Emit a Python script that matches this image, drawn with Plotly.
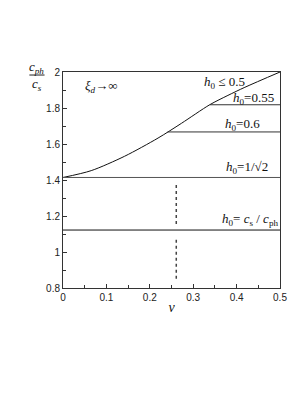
import plotly.graph_objects as go

# Main curve (h0 <= 0.5)
nu = [0.0, 0.065, 0.142, 0.219, 0.273, 0.338, 0.38, 0.419, 0.5]
cph = [1.414, 1.452, 1.532, 1.633, 1.715, 1.818, 1.87, 1.915, 2.0]

# Horizontal branches
h055_nu = [0.338, 0.5]; h055_val = [1.818, 1.818]
h06_nu = [0.241, 0.5]; h06_val = [1.667, 1.667]
hsq_nu = [0.0, 0.5]; hsq_val = [1.414, 1.414]
hcs_nu = [0.0, 0.5]; hcs_val = [1.122, 1.122]

# Dotted vertical segments
dot1_nu = [0.261, 0.261]; dot1_val = [1.156, 1.378]
dot2_nu = [0.261, 0.261]; dot2_val = [0.852, 1.068]

fig = go.Figure()
fig.add_trace(go.Scatter(x=nu, y=cph, mode="lines", line=dict(color="#111", width=1, shape="spline", smoothing=0.8), showlegend=False))
for xs, ys, col in [(h055_nu, h055_val, "#333"), (h06_nu, h06_val, "#333"), (hsq_nu, hsq_val, "#555"), (hcs_nu, hcs_val, "#111")]:
    fig.add_trace(go.Scatter(x=xs, y=ys, mode="lines", line=dict(color=col, width=1), showlegend=False))
for xs, ys in [(dot1_nu, dot1_val), (dot2_nu, dot2_val)]:
    fig.add_trace(go.Scatter(x=xs, y=ys, mode="lines", line=dict(color="#444", width=1.5, dash="dot"), showlegend=False))

serif = dict(family="Liberation Serif", size=13, color="#111")
ann = [
    dict(x=0.373, y=1.944, text="<i>h</i><sub>0</sub> ≤ 0.5"),
    dict(x=0.439, y=1.852, text="<i>h</i><sub>0</sub>=0.55"),
    dict(x=0.414, y=1.706, text="<i>h</i><sub>0</sub>=0.6"),
    dict(x=0.424, y=1.472, text="<i>h</i><sub>0</sub>=1/√2"),
    dict(x=0.432, y=1.18, text="<i>h</i><sub>0</sub>= <i>c</i><sub>s</sub> / <i>c</i><sub>ph</sub>"),
    dict(x=0.088, y=1.917, text="<i>ξ</i><sub><i>d</i></sub>→∞"),
]
for a in ann:
    fig.add_annotation(x=a["x"], y=a["y"], text=a["text"], showarrow=False, font=serif, xref="x", yref="y",
                       xanchor="center", yanchor="middle")

# y-axis title as fraction
fig.add_annotation(xref="paper", yref="paper", x=-0.12, y=1.019, text="<i>c</i><sub><i>ph</i></sub>", showarrow=False,
                   font=serif, xanchor="center", yanchor="middle")
fig.add_annotation(xref="paper", yref="paper", x=-0.12, y=0.944, text="<i>c</i><sub><i>s</i></sub>", showarrow=False,
                   font=serif, xanchor="center", yanchor="middle")
fig.add_shape(type="line", xref="paper", yref="paper", x0=-0.155, x1=-0.085, y0=0.986, y1=0.986, line=dict(color="#222", width=1))

fig.update_layout(
    width=306, height=396,
    margin=dict(l=55, r=34, t=64, b=116),
    paper_bgcolor="white", plot_bgcolor="white",
    xaxis=dict(range=[0, 0.5], tickvals=[0, 0.1, 0.2, 0.3, 0.4, 0.5], ticktext=["0", "0.1", "0.2", "0.3", "0.4", "0.5"],
               ticks="inside", ticklen=4, tickcolor="#333", showline=True, linecolor="#333", linewidth=1, mirror=True,
               showgrid=False, zeroline=False,
               minor=dict(tickvals=[0.05, 0.15, 0.25, 0.35, 0.45], ticks="inside", ticklen=3, tickcolor="#333"),
               tickfont=dict(family="Liberation Sans", size=10, color="#222"),
               title=dict(text="<i>ν</i>", font=dict(family="Liberation Serif", size=14, color="#111"), standoff=0)),
    yaxis=dict(range=[0.8, 2.0], tickvals=[0.8, 1.0, 1.2, 1.4, 1.6, 1.8, 2.0], ticktext=["0.8", "1", "1.2", "1.4", "1.6", "1.8", "2"],
               ticks="inside", ticklen=4, tickcolor="#333", showline=True, linecolor="#333", linewidth=1, mirror=True,
               showgrid=False, zeroline=False,
               minor=dict(tickvals=[0.9, 1.1, 1.3, 1.5, 1.7, 1.9], ticks="inside", ticklen=3, tickcolor="#333"),
               tickfont=dict(family="Liberation Sans", size=10, color="#222")),
)
fig.write_html("out.html")
